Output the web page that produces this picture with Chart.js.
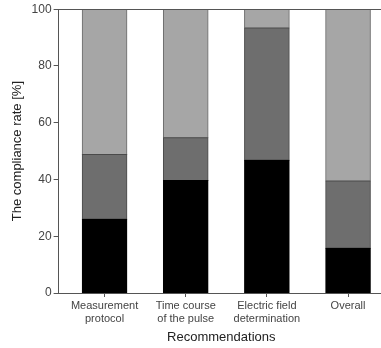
<!DOCTYPE html>
<html>
<head>
<meta charset="utf-8">
<script src="https://cdn.jsdelivr.net/npm/chart.js@4"></script>
<style>
  html, body { margin: 0; padding: 0; background: #fff; overflow: hidden; }
  /* o quadro continua um pouco além da borda direita, como no original */
  #wrap { position: relative; width: 384px; height: 348px; }
  canvas { display: block; }
</style>
</head>
<body>
<div id="wrap"><canvas id="grafico"></canvas></div>
<script>
// categorias e valores (%)
const categorias = [['Measurement', 'protocol'], ['Time course', 'of the pulse'], ['Electric field', 'determination'], ['Overall']];
const posicoes = [1, 2, 3, 4];
const parteBaixa = [26, 39.6, 46.8, 15.8];
const parteMeio = [22.8, 15.1, 46.6, 23.7];
const parteTopo = [51.2, 45.3, 6.6, 60.5];
const ticksY = [0, 20, 40, 60, 80, 100];

const pontos = vals => vals.map((v, i) => ({ x: posicoes[i], y: v }));

const corEixo = '#555';
const corTexto = '#444';

// linha superior do quadro
const linhaTopo = {
  id: 'linhaTopo',
  afterDraw(chart) {
    const { ctx, chartArea } = chart;
    ctx.save();
    ctx.strokeStyle = corEixo;
    ctx.lineWidth = 1;
    ctx.beginPath();
    ctx.moveTo(chartArea.left, Math.round(chartArea.top) + 0.5);
    ctx.lineTo(chart.width, Math.round(chartArea.top) + 0.5);
    ctx.stroke();
    ctx.restore();
  }
};

const ctx = document.getElementById('grafico').getContext('2d');
const grafico = new Chart(ctx, {
  type: 'bar',
  data: {
    datasets: [
      { label: 'baixa', data: pontos(parteBaixa), backgroundColor: '#000000', borderColor: '#000000' },
      { label: 'meio', data: pontos(parteMeio), backgroundColor: '#6e6e6e', borderColor: '#4a4a4a' },
      { label: 'topo', data: pontos(parteTopo), backgroundColor: '#a6a6a6', borderColor: '#6a6a6a' }
    ].map(d => Object.assign(d, {
      borderWidth: 1,
      borderSkipped: false,
      inflateAmount: 0.5,
      barPercentage: 0.55,
      categoryPercentage: 1
    }))
  },
  options: {
    responsive: true,
    maintainAspectRatio: false,
    animation: false,
    layout: { padding: { top: 9, right: 0, left: 10, bottom: 3 } },
    plugins: {
      legend: { display: false },
      tooltip: { enabled: false }
    },
    scales: {
      x: {
        type: 'linear',
        stacked: true,
        offset: false,
        min: 0.434,
        max: 4.443,
        afterBuildTicks: eixo => { eixo.ticks = posicoes.map(v => ({ value: v })); },
        grid: { drawOnChartArea: false, offset: false, tickLength: 4, color: corEixo },
        border: { color: corEixo, width: 1 },
        ticks: {
          color: corTexto,
          font: { family: 'Liberation Sans, Arial', size: 11 },
          padding: 2,
          maxRotation: 0,
          autoSkip: false,
          callback: (v) => categorias[posicoes.indexOf(v)] || ''
        },
        title: {
          display: true,
          text: 'Recommendations',
          color: '#222',
          font: { family: 'Liberation Sans, Arial', size: 13 },
          padding: { top: 2, bottom: 0 }
        }
      },
      y: {
        stacked: true,
        min: 0,
        max: 100,
        afterBuildTicks: eixo => { eixo.ticks = ticksY.map(v => ({ value: v })); },
        grid: { drawOnChartArea: false, tickLength: 5, color: corEixo },
        border: { color: corEixo, width: 1 },
        ticks: {
          color: corTexto,
          font: { family: 'Liberation Sans, Arial', size: 12 },
          padding: 2
        },
        title: {
          display: true,
          text: 'The compliance rate [%]',
          color: '#222',
          font: { family: 'Liberation Sans, Arial', size: 13 },
          padding: { top: 0, bottom: 4 }
        }
      }
    }
  },
  plugins: [linhaTopo]
});
</script>
</body>
</html>
